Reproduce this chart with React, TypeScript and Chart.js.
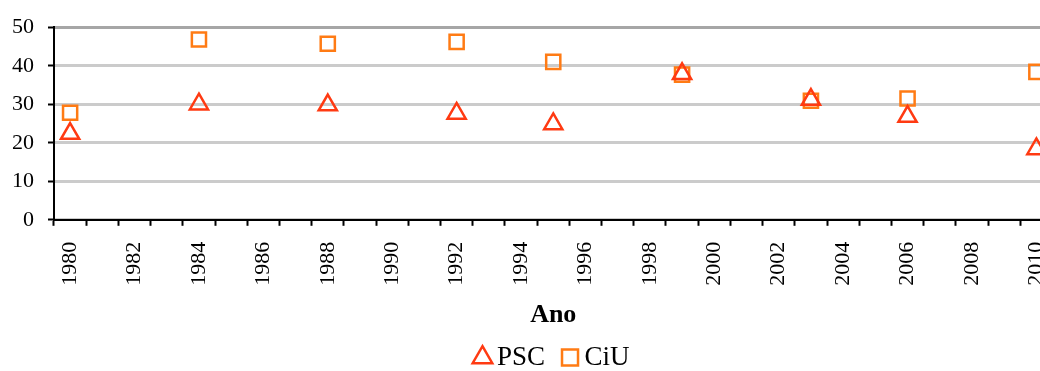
import React, { useEffect, useRef } from "react";
import { Chart, registerables } from "chart.js";

Chart.register(...registerables);

const categories: string[] = [];
for (let y = 1980; y <= 2010; y++) categories.push(String(y));

const electionYears = [1980, 1984, 1988, 1992, 1995, 1999, 2003, 2006, 2010];
const pscValues = [22.4, 30.0, 29.8, 27.6, 24.9, 37.9, 31.2, 26.8, 18.4];
const ciuValues = [27.8, 46.8, 45.7, 46.2, 41.0, 37.7, 30.9, 31.5, 38.4];
const yTicks = [0, 10, 20, 30, 40, 50];

const FONT = "'Liberation Serif', 'Times New Roman', serif";

const legendShift = {
  id: "legendShift",
  afterLayout(chart: any) {
    if (chart.legend) {
      chart.legend.left += 16;
      chart.legend.right += 16;
    }
  },
};

export default function App() {
  const ref = useRef<HTMLCanvasElement | null>(null);

  useEffect(() => {
    if (!ref.current) return;
    const chart = new Chart(ref.current, {
      type: "line",
      data: {
        labels: categories,
        datasets: [
          {
            label: "PSC",
            data: electionYears.map((yr, i) => ({ x: String(yr), y: pscValues[i] })),
            showLine: false,
            pointStyle: "triangle",
            pointRadius: 10.5,
            pointBorderWidth: 2.5,
            borderWidth: 2.5,
            borderColor: "#FF3A12",
            backgroundColor: "rgba(0,0,0,0)",
            pointBackgroundColor: "rgba(0,0,0,0)",
            pointBorderColor: "#FF3A12",
          },
          {
            label: "CiU",
            data: electionYears.map((yr, i) => ({ x: String(yr), y: ciuValues[i] })),
            showLine: false,
            pointStyle: "rect",
            pointRadius: 10,
            pointBorderWidth: 2.5,
            borderWidth: 2.5,
            borderColor: "#FF7B14",
            backgroundColor: "rgba(0,0,0,0)",
            pointBackgroundColor: "rgba(0,0,0,0)",
            pointBorderColor: "#FF7B14",
          },
        ],
      },
      options: {
        responsive: false,
        animation: false,
        layout: { padding: { top: 9, left: 0, right: 0, bottom: -10 } },
        plugins: {
          tooltip: { enabled: false },
          legend: {
            position: "bottom",
            labels: {
              usePointStyle: true,
              boxWidth: 2,
              boxHeight: 16,
              padding: 24,
              color: "#000",
              font: { family: FONT, size: 27 },
            },
          },
        },
        scales: {
          x: {
            type: "category",
            offset: true,
            border: { color: "#000", width: 2 },
            grid: {
              offset: true,
              drawOnChartArea: false,
              drawTicks: true,
              tickLength: 6,
              tickColor: "#000",
              tickWidth: 2,
            },
            ticks: {
              autoSkip: false,
              minRotation: 90,
              maxRotation: 90,
              padding: 16,
              color: "#000",
              font: { family: FONT, size: 22 },
              callback: (_v: any, i: number) => (i % 2 === 0 ? categories[i] : ""),
            },
            title: {
              display: true,
              text: "Ano",
              color: "#000",
              font: { family: FONT, size: 26, weight: "bold" },
              padding: { top: -2, bottom: -11 },
            },
          },
          y: {
            min: 0,
            max: 50,
            afterFit: (scale: any) => {
              scale.width = 54;
            },
            afterBuildTicks: (scale: any) => {
              scale.ticks = yTicks.map((v) => ({ value: v }));
            },
            border: { color: "#000", width: 2 },
            grid: {
              color: (ctx: any) => (ctx.tick && ctx.tick.value === 50 ? "#A6A6A6" : "#CBCBCB"),
              lineWidth: 3,
              drawTicks: true,
              tickLength: 6,
              tickColor: "#000",
              tickWidth: 2,
            },
            ticks: {
              padding: 14,
              color: "#000",
              font: { family: FONT, size: 22 },
            },
          },
        },
      },
      plugins: [legendShift],
    });
    return () => chart.destroy();
  }, []);

  return (
    <div
      style={{
        position: "fixed",
        left: 0,
        top: 0,
        width: 1040,
        height: 371,
        overflow: "hidden",
        background: "#fff",
      }}
    >
      <canvas ref={ref} width={1079} height={371} style={{ display: "block" }} />
    </div>
  );
}
